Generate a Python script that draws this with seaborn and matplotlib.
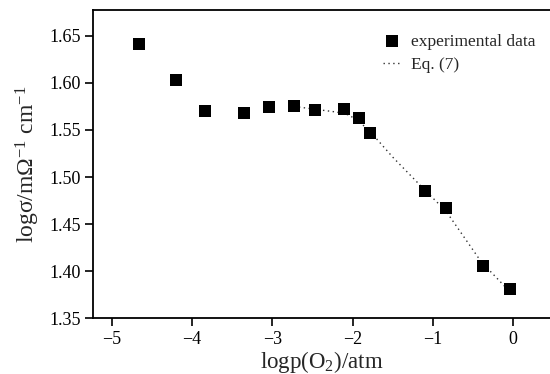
import matplotlib
matplotlib.use("Agg")
import matplotlib.pyplot as plt
import seaborn as sns
import pandas as pd

# experimental data
exp_x = [-4.656, -4.199, -3.834, -3.356, -3.041, -2.730, -2.472, -2.103, -1.924, -1.787, -1.095, -0.841, -0.380, -0.040]
exp_y = [1.6415, 1.6027, 1.5697, 1.5679, 1.5743, 1.5750, 1.5714, 1.5725, 1.5626, 1.5464, 1.4855, 1.4668, 1.4055, 1.3807]

# Eq. (7) fit curve
fit_x = [-2.73, -2.47, -2.20, -2.05, -1.92, -1.78, -1.50, -1.10, -0.84, -0.40, -0.04]
fit_y = [1.575, 1.572, 1.569, 1.566, 1.559, 1.548, 1.521, 1.486, 1.464, 1.410, 1.378]

x_ticks = [-5, -4, -3, -2, -1, 0]
y_ticks = [1.35, 1.40, 1.45, 1.50, 1.55, 1.60, 1.65]

sns.set_style("ticks")
plt.rcParams["font.family"] = ["Liberation Serif", "DejaVu Serif"]
plt.rcParams["mathtext.fontset"] = "custom"
plt.rcParams["mathtext.rm"] = "Liberation Serif"
plt.rcParams["mathtext.it"] = "Liberation Serif:italic"
plt.rcParams["mathtext.default"] = "regular"

df_exp = pd.DataFrame({"x": exp_x, "y": exp_y})
df_fit = pd.DataFrame({"x": fit_x, "y": fit_y})

fig = plt.figure(figsize=(5.5, 3.74), dpi=100)
ax = fig.add_axes([0.1697, 0.149, 0.8303, 0.824])

sns.lineplot(data=df_fit, x="x", y="y", ax=ax, color="#333333", linestyle=(0, (1, 2.5)),
             linewidth=1.0, label="Eq. (7)", zorder=2)
sns.scatterplot(data=df_exp, x="x", y="y", ax=ax, marker="s", s=85, color="black",
                edgecolor="black", linewidth=0, label="experimental data", zorder=3)

ax.set_xlim(-5.23, 0.457)
ax.set_ylim(1.35, 1.6773)
ax.set_xticks(x_ticks)
ax.set_xticklabels(["\u22125", "\u22124", "\u22123", "\u22122", "\u22121", "0"])
ax.set_yticks(y_ticks)
ax.set_yticklabels([f"{v:.2f}" for v in y_ticks])
ax.tick_params(axis="both", direction="out", length=6, width=1.2, labelsize=13, colors="black", pad=3)

for s in ["left", "bottom", "top"]:
    ax.spines[s].set_linewidth(1.3)
    ax.spines[s].set_color("black")
ax.spines["right"].set_visible(False)

ax.set_xlabel("logp(O$_2$)/atm", fontsize=16.5, labelpad=1)
ax.set_ylabel("log\u03c3/m\u03a9$^{-1}$ cm$^{-1}$", fontsize=17, labelpad=5)

handles, labels = ax.get_legend_handles_labels()
order = [labels.index("experimental data"), labels.index("Eq. (7)")]
leg = ax.legend([handles[i] for i in order], [labels[i] for i in order],
                loc="upper right", bbox_to_anchor=(1.003, 0.975), frameon=False,
                fontsize=12.5, handlelength=1.0, handletextpad=0.6, labelspacing=0.4,
                markerscale=0.9)

fig.savefig("out.png", dpi=100)
